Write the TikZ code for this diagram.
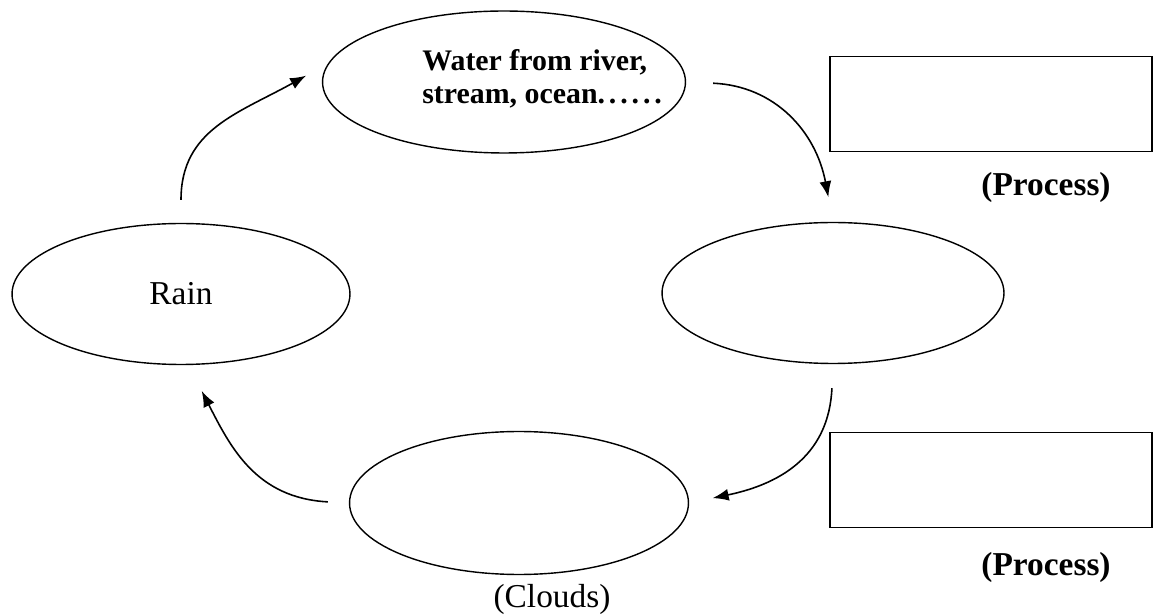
\documentclass[tikz,border=0pt]{standalone}
\usepackage{fontspec}
\setmainfont{Liberation Serif}
\usetikzlibrary{arrows.meta,shapes.geometric}

\begin{document}
\begin{tikzpicture}[x=0.02cm, y=0.02cm,
		stage/.style={draw, ellipse, line width=0.8pt, inner sep=0pt},
		blank/.style={draw, rectangle, line width=0.9pt, minimum width=6.44cm, minimum height=1.9cm},
		flow/.style={line width=0.9pt, -{Latex[length=0.32cm, width=0.24cm]}},
		caption/.style={font=\fontsize{19}{21}\selectfont},
		procname/.style={font=\fontsize{19}{21}\selectfont\bfseries}]
			%%%%% START %%%%%
			
			\useasboundingbox (0, 0) rectangle (1158, 615);
			
			% the four stages of the cycle
			\node[stage, minimum width=7.26cm, minimum height=2.84cm] (water) at (504, 533) {};
			\node[anchor=west, align=left, inner sep=0pt, font=\fontsize{17}{19}\selectfont\bfseries] (watertext) at (422, 536) {Water from river,\\stream, ocean.\hspace{0.13em}.\hspace{0.13em}.\hspace{0.13em}.\hspace{0.13em}.\hspace{0.13em}.};
			\node[stage, caption, minimum width=6.76cm, minimum height=2.82cm] (rain) at (181, 321) {Rain};
			\node[stage, minimum width=6.84cm, minimum height=2.82cm] (vapour) at (833, 322) {};
			\node[stage, minimum width=6.78cm, minimum height=2.86cm] (clouds) at (519, 112) {};
			\node[caption] (cloudslabel) at (552, 16) {(Clouds)};
			
			% boxes to fill in
			\node[blank] (box1) at (991, 511) {};
			\node[procname] (proc1) at (1046, 428) {(Process)};
			\node[blank] (box2) at (991, 135) {};
			\node[procname] (proc2) at (1046, 48) {(Process)};
			
			% arrows round the cycle
			\draw[flow, shorten <=0.46cm, shorten >=0.5cm] (rain.north) .. controls +(0, 93) and +(-90, -50) .. (water.174);
			\draw[flow, shorten <=0.54cm, shorten >=0.5cm] (water.east) .. controls +(89, -4) and +(-17, 90) .. (vapour.north);
			\draw[flow, shorten <=0.48cm, shorten >=0.48cm] (vapour.south) .. controls +(-4, -88) and +(96, 20) .. (clouds.east);
			\draw[flow, shorten <=0.42cm, shorten >=0.58cm] (clouds.west) .. controls +(-93, 5) and +(42, -82) .. (rain.-84);
			
			%%%%% END %%%%%
\end{tikzpicture}
\end{document}
